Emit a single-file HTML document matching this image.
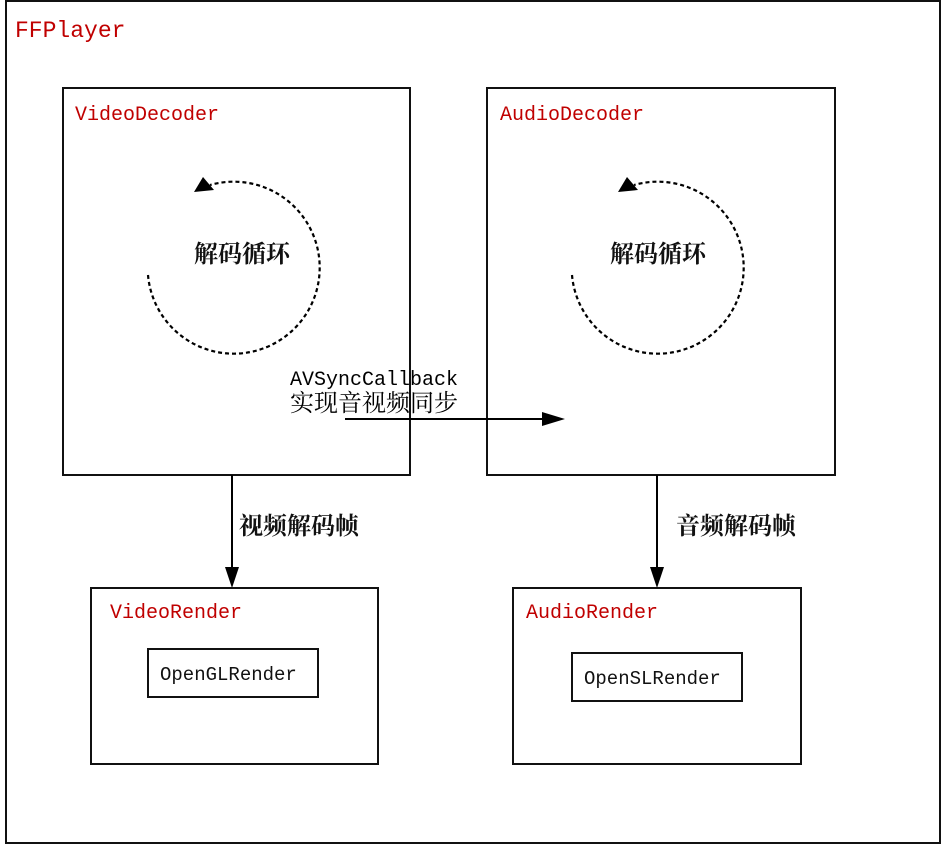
<!DOCTYPE html>
<html><head><meta charset="utf-8"><style>
html,body{margin:0;padding:0;background:#fff;width:942px;height:845px;overflow:hidden}
svg text{font-family:"Liberation Mono","Noto Serif CJK SC",monospace}
.r{fill:#c00000;font-size:20px}
.c{font-family:"Liberation Serif","Noto Serif CJK SC",serif !important;font-size:24px;font-weight:bold;fill:#111}
</style></head><body>
<svg width="942" height="845" viewBox="0 0 942 845" xmlns="http://www.w3.org/2000/svg">
<g fill="none" stroke="#111" stroke-width="2">
<rect x="6" y="1" width="934" height="842"/>
<rect x="63" y="88" width="347" height="387"/>
<rect x="487" y="88" width="348" height="387"/>
<rect x="91" y="588" width="287" height="176"/>
<rect x="513" y="588" width="288" height="176"/>
<rect x="148" y="649" width="170" height="48"/>
<rect x="572" y="653" width="170" height="48"/>
</g>
<g stroke="#000" stroke-width="2" fill="none">
<line x1="232" y1="475" x2="232" y2="570"/>
<line x1="657" y1="475" x2="657" y2="570"/>
<line x1="345" y1="419" x2="545" y2="419"/>
</g>
<g fill="#000">
<path d="M225,567 L239,567 L232,588z"/>
<path d="M650,567 L664,567 L657,588z"/>
<path d="M542,412 L542,426 L565,419z"/>
<path d="M194,192 L203,177 L214,190z"/>
<path d="M618,192 L627,177 L638,190z"/>
</g>
<g fill="none" stroke="#000" stroke-width="2.2" stroke-dasharray="4,3">
<path d="M148,275 A86,86 0 1 0 210,185"/>
<path d="M572,275 A86,86 0 1 0 634,185"/>
</g>
<text class="r" x="15" y="37" font-size="23" style="font-size:23px">FFPlayer</text>
<text class="r" x="75" y="120">VideoDecoder</text>
<text class="r" x="500" y="120">AudioDecoder</text>
<text class="r" x="110" y="618">VideoRender</text>
<text class="r" x="526" y="618">AudioRender</text>
<text x="160" y="680" font-size="19" fill="#111">OpenGLRender</text>
<text x="584" y="684" font-size="19" fill="#111">OpenSLRender</text>
<text x="290" y="385" font-size="20" fill="#000">AVSyncCallback</text>
<text x="290" y="411" font-size="24" fill="#000" style="font-family:'Noto Serif CJK SC',serif">实现音视频同步</text>
<text class="c" x="194" y="262">解码循环</text>
<text class="c" x="610" y="262">解码循环</text>
<text class="c" x="239" y="534">视频解码帧</text>
<text class="c" x="676" y="534">音频解码帧</text>
</svg>
</body></html>
